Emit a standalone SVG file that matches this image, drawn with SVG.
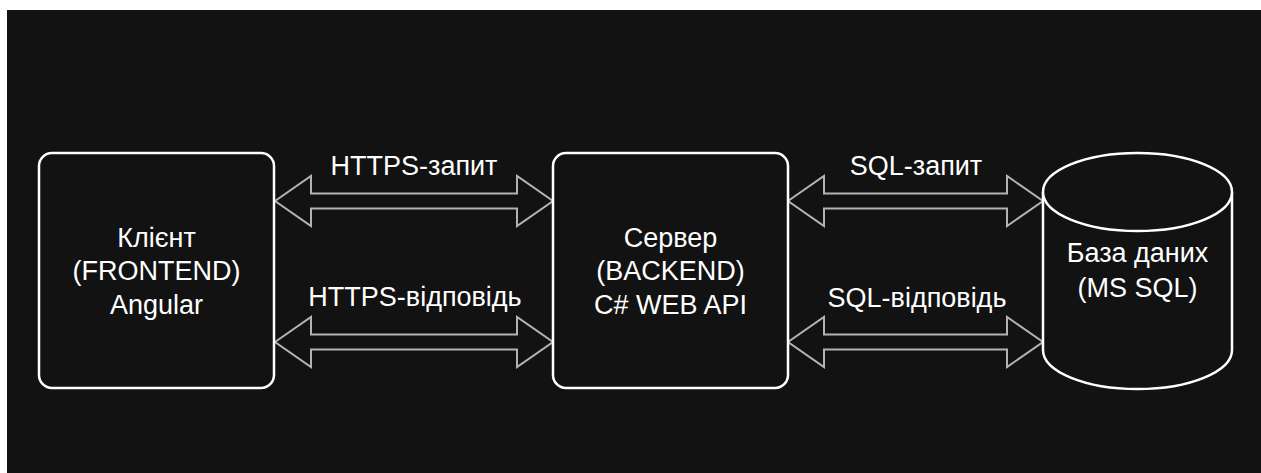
<svg xmlns="http://www.w3.org/2000/svg" width="1261" height="473" viewBox="0 0 1261 473">
<style>
.node{fill:#121212;stroke:#ffffff;stroke-width:2.5}
.arr{fill:#121212;stroke:#b3b3b3;stroke-width:2}
text{font-family:"Liberation Sans",Arial,sans-serif;font-size:27px;fill:#ffffff;text-anchor:middle}
</style>
<defs>
<path id="dbl" d="M0,0 L36,-25 L36,-7.5 L242,-7.5 L242,-25 L278,0 L242,25 L242,7.5 L36,7.5 L36,25 Z"/>
<path id="dbl2" d="M0,0 L36,-25 L36,-7.5 L219,-7.5 L219,-25 L255,0 L219,25 L219,7.5 L36,7.5 L36,25 Z"/>
</defs>
<rect x="0" y="0" width="1261" height="473" fill="#ffffff"/>
<rect x="7" y="10" width="1254" height="463" fill="#121212"/>
<g id="connectors">
<use href="#dbl" class="arr" x="275" y="201"/>
<use href="#dbl" class="arr" x="275" y="342"/>
<use href="#dbl2" class="arr" x="788" y="201"/>
<use href="#dbl2" class="arr" x="788" y="342"/>
<text x="414" y="175">HTTPS-запит</text>
<text x="415" y="306">HTTPS-відповідь</text>
<text x="916" y="175">SQL-запит</text>
<text x="917" y="307">SQL-відповідь</text>
</g>
<g id="client">
<rect class="node" x="39" y="153" width="235" height="235" rx="13"/>
<text x="156.5" y="247">Клієнт</text>
<text x="156.5" y="280">(FRONTEND)</text>
<text x="156.5" y="314">Angular</text>
</g>
<g id="server">
<rect class="node" x="553" y="153" width="235" height="235" rx="13"/>
<text x="670.5" y="247">Сервер</text>
<text x="670.5" y="280">(BACKEND)</text>
<text x="670.5" y="314">C# WEB API</text>
</g>
<g id="database">
<path class="node" d="M1043,192 A94.5,39 0 0 1 1232,192 L1232,350 A94.5,39 0 0 1 1043,350 Z"/>
<path class="node" d="M1043,192 A94.5,39 0 0 0 1232,192" fill="none"/>
<text x="1137.5" y="262">База даних</text>
<text x="1137.5" y="297">(MS SQL)</text>
</g>
</svg>
